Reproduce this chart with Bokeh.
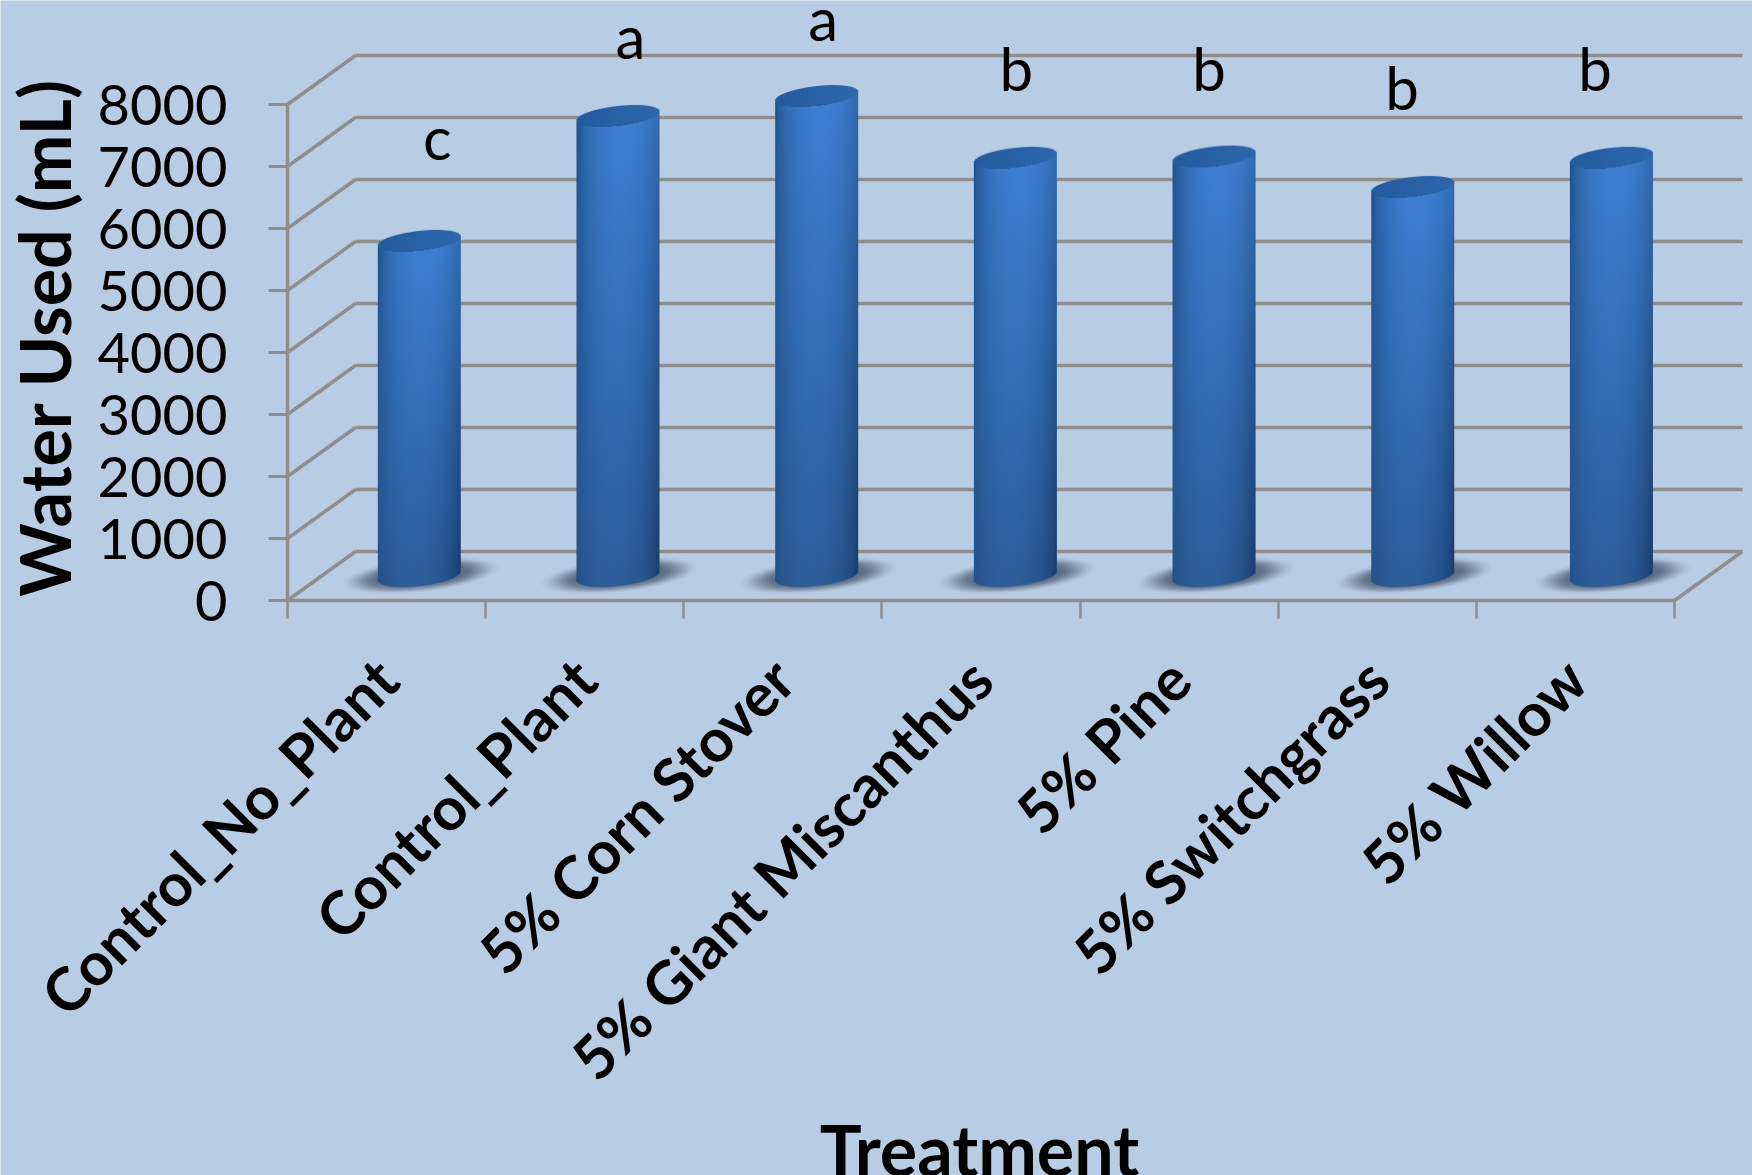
import numpy as np
from bokeh.embed import file_html
from bokeh.models import FixedTicker, Label, LinearAxis, Range1d
from bokeh.plotting import figure
from bokeh.resources import INLINE
from bokeh.core.properties import value

# Chart data
treatments = ["Control_No_Plant", "Control_Plant", "5% Corn Stover", "5% Giant Miscanthus",
              "5% Pine", "5% Switchgrass", "5% Willow"]
water_used = [5405, 7420, 7740, 6745, 6765, 6275, 6745]
groups = ["c", "a", "a", "b", "b", "b", "b"]
y_ticks = [0, 1000, 2000, 3000, 4000, 5000, 6000, 7000, 8000]

# Page layout: the frame fills the page and the axes sit at fixed data positions
W, H = 1752, 1175
LEFT, BASE = 287, 600
PX_PER_CAT, PX_PER_ML = 198.14, 0.062
BACK_DX, BACK_DY = 68 / PX_PER_CAT, 49 / PX_PER_ML
MID_DX, MID_DY = 0.165, 24.5 / PX_PER_ML
BG, GRID = "#b8cce4", "#8e8e8e"
FONT = value("Lato")
n = len(treatments)


def px_x(px):
    return (px - LEFT) / PX_PER_CAT


def px_y(px):
    return (BASE - px) / PX_PER_ML


p = figure(width=W, height=H, output_backend="svg", toolbar_location=None,
           x_range=Range1d(px_x(0), px_x(W)), y_range=Range1d(px_y(H), px_y(0)),
           x_axis_type=None, y_axis_type=None,
           min_border_left=0, min_border_right=0, min_border_top=0, min_border_bottom=0,
           background_fill_color=BG, border_fill_color=BG, outline_line_color=None)
p.grid.visible = False

# Back wall, side wall and floor edges
levels = np.array(y_ticks, dtype=float)
p.segment(x0=np.full(levels.size, BACK_DX), y0=levels + BACK_DY,
          x1=np.full(levels.size, n + BACK_DX), y1=levels + BACK_DY,
          line_color=GRID, line_width=3.5)
p.segment(x0=np.zeros(levels.size), y0=levels,
          x1=np.full(levels.size, BACK_DX), y1=levels + BACK_DY,
          line_color=GRID, line_width=3.5)
p.segment(x0=[n], y0=[0], x1=[n + BACK_DX], y1=[BACK_DY], line_color=GRID, line_width=3.5)


def rgba(r, g, b, a):
    """Pack float channels into the uint32 layout used by image_rgba."""
    return (np.clip(r, 0, 255).astype(np.uint32)
            | np.clip(g, 0, 255).astype(np.uint32) << 8
            | np.clip(b, 0, 255).astype(np.uint32) << 16
            | (np.clip(a, 0, 1) * 255).astype(np.uint32) << 24)


def shadow_image():
    w, h = 190, 70
    yy, xx = np.mgrid[0:h, 0:w]
    u = (xx - w / 2) / 74.0
    v = (yy - h / 2 + 0.1 * (xx - w / 2)) / 16.0
    d = np.clip((1.1 - np.sqrt(u * u + v * v)) / 0.55, 0, 1)
    a = 0.8 * d * d * (3 - 2 * d)
    return rgba(np.full(a.shape, 70.0), np.full(a.shape, 85.0), np.full(a.shape, 108.0), a)[::-1]


def cylinder_image(height_px):
    half, skew, cap = 41.5, 4.5, 10.0
    pad_y = 16
    w, h = 85, int(round(height_px)) + 2 * pad_y
    cx = w / 2
    top_c, bot_c = pad_y, pad_y + height_px
    yy, xx = np.mgrid[0:h, 0:w]
    xc, yc = xx + 0.5, yy + 0.5
    u = (xc - cx) / half
    root = np.sqrt(np.clip(1 - u * u, 0, 1))
    upper = top_c - skew * u - cap * root
    lower = bot_c - skew * u + cap * root
    cap_low = top_c - skew * u + cap * root
    v = np.clip((yc - top_c) / height_px, 0, 1)

    # Shading across the round face, with the highlight drifting left further down
    peak = 0.12 - 0.28 * v
    s = np.clip(1 - ((u - peak) / 1.1) ** 2, 0, 1) ** 0.62
    r = (32 - 6 * v) + s * (29 - 10 * v)
    g = (78 - 14 * v) + s * (50 - 20 * v)
    b = (132 - 18 * v) + s * (79 - 38 * v)

    in_cap = yc < cap_low
    r = np.where(in_cap, 41 + 5 * u, r)
    g = np.where(in_cap, 97 + 6 * u, g)
    b = np.where(in_cap, 165 + 8 * u, b)

    alpha = np.clip(yc - upper + 0.5, 0, 1) * np.clip(lower - yc + 0.5, 0, 1)
    alpha *= np.clip((1 - np.abs(u)) * half + 0.5, 0, 1)
    return rgba(r, g, b, alpha)[::-1], w, h, pad_y


centres = np.arange(n) + 0.5
bar_x = 0.5 + MID_DX + np.arange(n) * 1.0028

# Floor shadows behind each cylinder
shadow = shadow_image()
for x in bar_x:
    p.image_rgba(image=[shadow], x=[x + 1 / PX_PER_CAT - 95 / PX_PER_CAT],
                 y=[MID_DY - 35 / PX_PER_ML + 1 / PX_PER_ML],
                 dw=[190 / PX_PER_CAT], dh=[70 / PX_PER_ML])

# Cylinder core and its shaded surface, both driven by the values
p.vbar(x=bar_x, bottom=MID_DY, top=np.array(water_used) + MID_DY,
       width=0.3, fill_color="#2f68ae", line_color=None)
for x, v in zip(bar_x, water_used):
    img, w, h, pad = cylinder_image(v * PX_PER_ML)
    p.image_rgba(image=[img], x=[x - w / 2 / PX_PER_CAT],
                 y=[MID_DY - (h - pad - v * PX_PER_ML) / PX_PER_ML],
                 dw=[w / PX_PER_CAT], dh=[h / PX_PER_ML])

# Significance letters
letter_x = 0.7565 + 0.9737 * np.arange(n)
letter_levels = [7480, 9100, 9390, 8590, 8590, 8290, 8590]
p.text(x=letter_x, y=letter_levels, text=groups, text_font=FONT, text_font_size="60px",
       text_align="center", text_baseline="alphabetic", text_color="#000000")

# Value axis
y_axis = LinearAxis(ticker=FixedTicker(ticks=y_ticks), bounds=(0, 8000), fixed_location=0,
                    major_label_text_font="Lato", major_label_text_font_size="56px",
                    major_label_text_color="#000000", major_label_standoff=41,
                    axis_line_color=GRID, axis_line_width=3.5,
                    major_tick_line_color=GRID, major_tick_line_width=3,
                    major_tick_in=0, major_tick_out=19, minor_tick_out=0, minor_tick_in=0)
p.add_layout(y_axis, "left")

# Category axis: labels on the centres, tick marks between categories
x_axis = LinearAxis(ticker=FixedTicker(ticks=list(centres), minor_ticks=list(range(n + 1))),
                    bounds=(0, n), fixed_location=0,
                    major_label_overrides={float(k): t for k, t in zip(centres, treatments)},
                    major_label_orientation=np.pi / 4,
                    major_label_text_font="Lato", major_label_text_font_style="bold",
                    major_label_text_font_size="60px", major_label_text_color="#000000",
                    major_label_standoff=50,
                    axis_line_color=GRID, axis_line_width=3.5,
                    major_tick_in=0, major_tick_out=0, major_tick_line_color=None,
                    minor_tick_in=0, minor_tick_out=18, minor_tick_line_color=GRID, minor_tick_line_width=2.5)
p.add_layout(x_axis, "below")

# Axis titles
p.add_layout(Label(x=px_x(979), y=px_y(1148), text="Treatment", text_font="Lato",
                   text_font_style="bold", text_font_size="70px", text_color="#000000",
                   text_align="center", text_baseline="middle"))
p.add_layout(Label(x=px_x(43), y=px_y(337), text="Water Used (mL)", text_font="Lato",
                   text_font_style="bold", text_font_size="70px", text_color="#000000",
                   text_align="center", text_baseline="middle", angle=np.pi / 2))

open("out.html", "w").write(file_html(p, INLINE))
